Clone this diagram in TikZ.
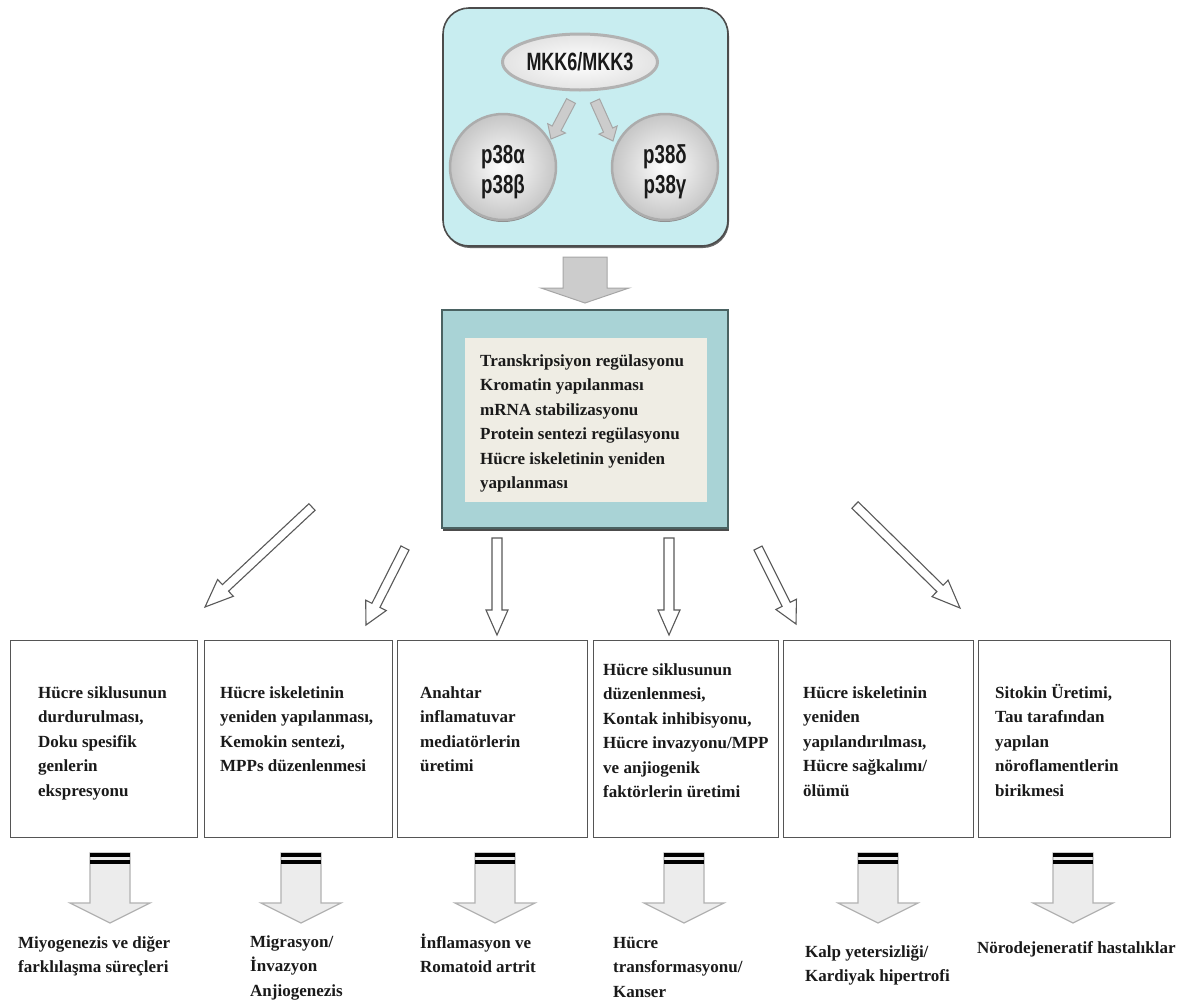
\documentclass[tikz,border=0pt]{standalone}
\usepackage{fontspec}
\usepackage{graphicx}
\setmainfont{Liberation Serif}
\newfontfamily\narrowsans{Liberation Sans}
\usetikzlibrary{calc,shapes.geometric,shadows}
\definecolor{topfill}{HTML}{C8EDF0}
\definecolor{midfill}{HTML}{A9D3D6}
\definecolor{midborder}{HTML}{4A6262}
\definecolor{innerfill}{HTML}{EFEDE4}
\definecolor{boxborder}{HTML}{555555}
\definecolor{txt}{HTML}{1A1A1A}
% block arrow: #1 style, #2 from, #3 to, #4 shaft half width, #5 head half width, #6 head length
\newcommand\barrow[6]{%
  \path ($(#3)!#6pt!(#2)$) coordinate (bah);
  \draw[#1] ($(#2)!#4pt!90:(#3)$) -- ($(bah)!#4pt!90:(#3)$) -- ($(bah)!#5pt!90:(#3)$) -- (#3)
    -- ($(bah)!#5pt!-90:(#3)$) -- ($(bah)!#4pt!-90:(#3)$) -- ($(#2)!#4pt!-90:(#3)$) -- cycle;}
\newcommand\bandarrow[1]{%
  \barrow{bigarrow}{#1s}{#1e}{20}{40}{20}
  \fill[black] ($(#1s)+(-20,0)$) rectangle ($(#1s)+(20,4)$);
  \fill[black] ($(#1s)+(-20,7)$) rectangle ($(#1s)+(20,10.5)$);}
\begin{document}
\begin{tikzpicture}[x=1pt,y=-1pt,
  txtnode/.style={anchor=north west, inner sep=0pt, align=left, text=txt,
    font=\fontsize{17}{24.5}\selectfont\bfseries},
  bbox/.style={draw=boxborder, line width=1.4pt, fill=white, anchor=north west,
    minimum height=197pt, inner sep=0pt},
  outarrow/.style={draw=gray!70!black, line width=1.1pt, fill=white},
  greyarrow/.style={draw=gray!70, line width=1pt, fill=gray!40},
  bigarrow/.style={draw=gray!60, line width=1.2pt, fill=gray!15},
  pcircle/.style={circle, minimum size=106pt, inner sep=0pt, draw=gray!65, line width=2.5pt,
    inner color=white, outer color=gray!45,
    drop shadow={shadow xshift=0pt, shadow yshift=-2pt, fill=black!45, opacity=1}},
  ptext/.style={align=center, text=txt, inner sep=0pt,
    font=\narrowsans\bfseries\fontsize{26}{30}\selectfont},
]
\useasboundingbox (0,0) rectangle (1187,1002);
\fill[white] (0,0) rectangle (1187,1002);

% top box
\node[draw=black!70, line width=1.6pt, fill=topfill, rounded corners=26pt,
  minimum width=285pt, minimum height=238pt, inner sep=0pt,
  drop shadow={shadow xshift=1pt, shadow yshift=-2pt, fill=black!60, opacity=1}] (top) at (585.5,127) {};
\node[ellipse, draw=gray!60, line width=3pt, inner color=white, outer color=gray!22,
  minimum width=155pt, minimum height=56pt, inner sep=0pt, text=txt,
  font=\narrowsans\bfseries\fontsize{25}{25}\selectfont] (mkk) at (580,62) {\scalebox{0.72}[1]{MKK6/MKK3}};
\node[pcircle] (pab) at (503,167) {};
\node[pcircle] (pdg) at (665,167) {};
\node[ptext] (pabt) at ($(pab)+(0,5)$) {\scalebox{0.72}[1]{p38α}\\\scalebox{0.72}[1]{p38β}};
\node[ptext] (pdgt) at ($(pdg)+(0,5)$) {\scalebox{0.72}[1]{p38δ}\\\scalebox{0.72}[1]{p38γ}};
\coordinate (g1s) at (571,101); \coordinate (g1e) at (551,139);
\coordinate (g2s) at (595,101); \coordinate (g2e) at (613,141);
\barrow{greyarrow}{g1s}{g1e}{5}{10}{12}
\barrow{greyarrow}{g2s}{g2e}{5}{10}{12}

% big grey arrow
\coordinate (bgs) at (585,257); \coordinate (bge) at (585,303);
\barrow{greyarrow}{bgs}{bge}{22}{44}{15}

% middle box
\node[draw=midborder, line width=2pt, fill=midfill, minimum width=286pt, minimum height=218pt,
  inner sep=0pt, drop shadow={shadow xshift=1pt, shadow yshift=-2.5pt, fill=black!70, opacity=1}] (mid) at (585,419) {};
\node[fill=innerfill, minimum width=242pt, minimum height=164pt, inner sep=0pt] (inner) at (586,420) {};
\node[txtnode] (midtxt) at (480,351) {\rule{0pt}{15pt}Transkripsiyon regülasyonu\\Kromatin yapılanması\\mRNA stabilizasyonu\\Protein sentezi regülasyonu\\Hücre iskeletinin yeniden\\yapılanması};

% outline arrows
\coordinate (o1s) at (312,507); \coordinate (o1e) at (205,607);
\coordinate (o2s) at (405,548); \coordinate (o2e) at (366,625);
\coordinate (o3s) at (497,538); \coordinate (o3e) at (497,635);
\coordinate (o4s) at (669,538); \coordinate (o4e) at (669,635);
\coordinate (o5s) at (758,548); \coordinate (o5e) at (796,624);
\coordinate (o6s) at (855,505); \coordinate (o6e) at (960,608);
\barrow{outarrow}{o1s}{o1e}{4.5}{11.5}{28}
\barrow{outarrow}{o2s}{o2e}{4.5}{11.5}{22}
\barrow{outarrow}{o3s}{o3e}{5}{11}{25}
\barrow{outarrow}{o4s}{o4e}{5}{11}{25}
\barrow{outarrow}{o5s}{o5e}{4.5}{11.5}{22}
\barrow{outarrow}{o6s}{o6e}{4.5}{11.5}{28}

% bottom boxes
\node[bbox, minimum width=187pt] (b1) at (10,640) {};
\node[bbox, minimum width=188pt] (b2) at (204,640) {};
\node[bbox, minimum width=190pt] (b3) at (397,640) {};
\node[bbox, minimum width=185pt] (b4) at (593,640) {};
\node[bbox, minimum width=190pt] (b5) at (783,640) {};
\node[bbox, minimum width=192pt] (b6) at (978,640) {};

\node[txtnode] (t1) at (38,683) {\rule{0pt}{15pt}Hücre siklusunun\\durdurulması,\\Doku spesifik\\genlerin\\ekspresyonu};
\node[txtnode] (t2) at (220,683) {\rule{0pt}{15pt}Hücre iskeletinin\\yeniden yapılanması,\\Kemokin sentezi,\\MPPs düzenlenmesi};
\node[txtnode] (t3) at (420,683) {\rule{0pt}{15pt}Anahtar\\inflamatuvar\\mediatörlerin\\üretimi};
\node[txtnode] (t4) at (603,660) {\rule{0pt}{15pt}Hücre siklusunun\\düzenlenmesi,\\Kontak inhibisyonu,\\Hücre invazyonu/MPP\\ve anjiogenik\\faktörlerin üretimi};
\node[txtnode] (t5) at (803,683) {\rule{0pt}{15pt}Hücre iskeletinin\\yeniden\\yapılandırılması,\\Hücre sağkalımı/\\ölümü};
\node[txtnode] (t6) at (995,683) {\rule{0pt}{15pt}Sitokin Üretimi,\\Tau tarafından\\yapılan\\nöroflamentlerin\\birikmesi};

% bottom arrows
\coordinate (d1s) at (110,853); \coordinate (d1e) at (110,923);
\coordinate (d2s) at (301,853); \coordinate (d2e) at (301,923);
\coordinate (d3s) at (495,853); \coordinate (d3e) at (495,923);
\coordinate (d4s) at (684,853); \coordinate (d4e) at (684,923);
\coordinate (d5s) at (878,853); \coordinate (d5e) at (878,923);
\coordinate (d6s) at (1073,853); \coordinate (d6e) at (1073,923);
\bandarrow{d1}\bandarrow{d2}\bandarrow{d3}\bandarrow{d4}\bandarrow{d5}\bandarrow{d6}

% outcome labels
\node[txtnode] (l1) at (18,933) {\rule{0pt}{15pt}Miyogenezis ve diğer\\farklılaşma süreçleri};
\node[txtnode] (l2) at (250,932) {\rule{0pt}{15pt}Migrasyon/\\İnvazyon\\Anjiogenezis};
\node[txtnode] (l3) at (420,933) {\rule{0pt}{15pt}İnflamasyon ve\\Romatoid artrit};
\node[txtnode] (l4) at (613,933) {\rule{0pt}{15pt}Hücre\\transformasyonu/\\Kanser};
\node[txtnode] (l5) at (805,942) {\rule{0pt}{15pt}Kalp yetersizliği/\\Kardiyak hipertrofi};
\node[txtnode] (l6) at (977,938) {\rule{0pt}{15pt}Nörodejeneratif hastalıklar};
\end{tikzpicture}
\end{document}
